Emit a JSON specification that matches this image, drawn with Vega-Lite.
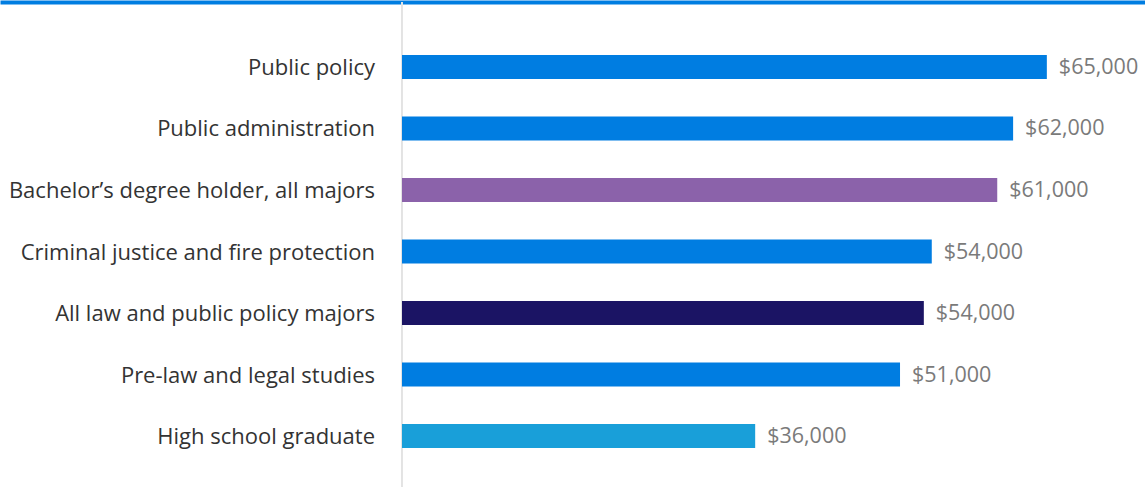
{
  "$schema": "https://vega.github.io/schema/vega-lite/v6.json",
  "width": 1145,
  "height": 485,
  "autosize": {"type": "none"},
  "padding": {"top": 2, "left": 0, "right": 0, "bottom": 0},
  "background": "white",
  "config": {"view": {"stroke": null}},
  "data": {
    "values": [
      {"label": "Public policy", "value": 65000, "display": "$65,000", "group": "major"},
      {"label": "Public administration", "value": 61600, "display": "$62,000", "group": "major"},
      {"label": "Bachelor’s degree holder, all majors", "value": 60000, "display": "$61,000", "group": "bachelor"},
      {"label": "Criminal justice and fire protection", "value": 53400, "display": "$54,000", "group": "major"},
      {"label": "All law and public policy majors", "value": 52600, "display": "$54,000", "group": "all"},
      {"label": "Pre-law and legal studies", "value": 50200, "display": "$51,000", "group": "major"},
      {"label": "High school graduate", "value": 35600, "display": "$36,000", "group": "hs"}
    ]
  },
  "layer": [
    {
      "mark": {"type": "rule", "color": "#e3e3e3", "strokeWidth": 1.5},
      "encoding": {"x": {"datum": 0, "type": "quantitative"}}
    },
    {
      "mark": {"type": "bar"},
      "encoding": {
        "y": {"field": "label", "type": "nominal", "sort": null, "axis": null,
              "scale": {"range": [14, 485], "paddingInner": 0.61, "paddingOuter": 0.634}},
        "x": {"field": "value", "type": "quantitative",
              "scale": {"domain": [-40522, 74894], "nice": false, "zero": false},
              "axis": {"orient": "top", "domainColor": "#007de1", "domainWidth": 4, "ticks": false, "labels": false, "grid": false, "title": null}},
        "x2": {"datum": 0},
        "color": {"field": "group", "type": "nominal", "legend": null,
                  "scale": {"domain": ["major", "bachelor", "all", "hs"], "range": ["#007de1", "#8b62aa", "#1b1464", "#199fd9"]}}
      }
    },
    {
      "mark": {"type": "text", "align": "right", "baseline": "middle", "dx": -27, "dy": 1, "font": "Open Sans", "fontSize": 22, "color": "#333333"},
      "encoding": {
        "y": {"field": "label", "type": "nominal", "sort": null},
        "x": {"datum": 0, "type": "quantitative"},
        "text": {"field": "label"}
      }
    },
    {
      "mark": {"type": "text", "align": "left", "baseline": "middle", "dx": 12, "dy": 1, "font": "Open Sans", "fontSize": 21.5, "color": "#7a7a7a"},
      "encoding": {
        "y": {"field": "label", "type": "nominal", "sort": null},
        "x": {"field": "value", "type": "quantitative"},
        "text": {"field": "display"}
      }
    }
  ]
}
